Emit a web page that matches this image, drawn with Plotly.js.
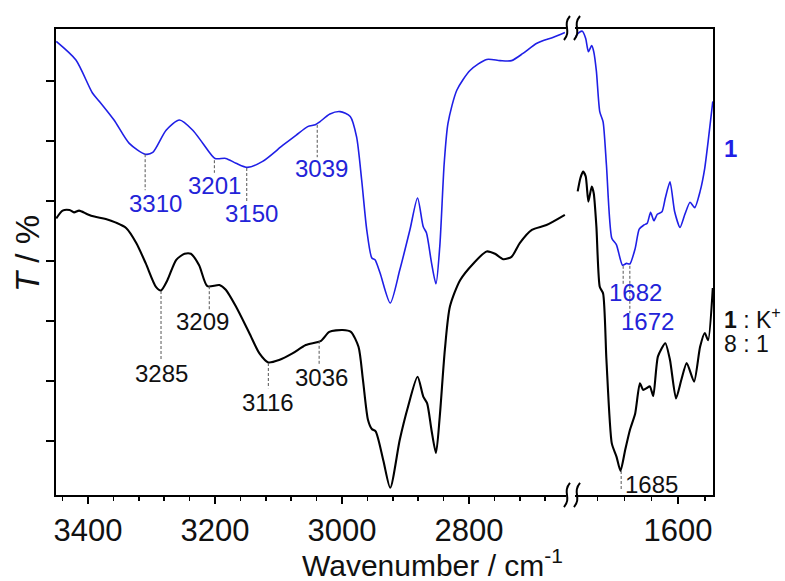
<!DOCTYPE html>
<html>
<head>
<meta charset="utf-8">
<script src="https://cdn.plot.ly/plotly-3.0.1.min.js"></script>
<style>
html,body{margin:0;padding:0;background:#fff;}
#chart{width:785px;height:581px;}
</style>
</head>
<body>
<div id="chart"></div>
<script>
// ---- data (wavenumber / cm-1, transmittance in arbitrary units) ----
const blueLeftX = [3450,3419,3393,3382,3359,3335,3310,3298,3277,3256,3235,3219,3200,3183,3167,3149,3125,3093,3072,3054,3042,3035,3019,3003,2987,2977,2969,2961,2953,2948,2940,2924,2909,2893,2881,2872,2867,2859,2852,2846,2839,2833,2819,2798,2772,2751,2733,2715,2693,2667,2649];
const blueLeftY = [7.66,7.35,6.80,6.66,6.35,5.96,5.78,5.81,6.18,6.35,6.18,5.96,5.71,5.71,5.63,5.56,5.66,5.93,6.10,6.24,6.27,6.32,6.45,6.49,6.41,6.07,5.35,4.52,4.05,4.02,3.80,3.30,3.85,4.52,5.05,4.57,4.47,3.97,3.62,4.24,5.63,6.30,6.85,7.18,7.36,7.34,7.34,7.46,7.63,7.73,7.81];

const blackLeftX = [3450,3440,3429,3422,3414,3401,3390,3372,3356,3340,3324,3309,3293,3285,3275,3261,3248,3238,3225,3212,3193,3183,3167,3146,3130,3116,3099,3078,3057,3033,3020,2999,2986,2974,2967,2959,2953,2947,2935,2924,2909,2896,2881,2872,2866,2859,2852,2846,2838,2830,2814,2793,2772,2759,2746,2733,2720,2701,2678,2649];
const blackLeftY = [4.71,4.84,4.85,4.81,4.84,4.78,4.74,4.70,4.64,4.55,4.30,3.96,3.57,3.51,3.68,4.02,4.12,4.12,3.93,3.58,3.60,3.52,3.24,2.80,2.46,2.31,2.35,2.46,2.60,2.67,2.82,2.85,2.82,2.57,2.02,1.35,1.20,1.16,0.68,0.22,1.02,1.57,2.07,1.74,1.63,1.18,0.80,1.41,2.52,3.24,3.68,3.96,4.16,4.12,4.03,4.07,4.30,4.52,4.60,4.77];

const blueRightX = [1754,1749,1743,1738,1734,1729,1726,1722,1717,1712,1707,1699,1692,1683,1677,1672,1664,1658,1651,1646,1641,1636,1631,1624,1619,1612,1605,1597,1590,1582,1575,1567,1560,1555,1548];
const blueRightY = [7.72,7.80,7.83,7.71,7.49,7.59,7.49,7.16,6.49,6.32,5.60,4.38,4.27,3.93,3.96,3.95,4.21,4.53,4.60,4.63,4.81,4.67,4.78,4.82,5.05,5.32,4.82,4.56,4.77,4.98,4.89,5.16,5.55,5.99,6.66];

const blackRightX = [1750,1746,1742,1738,1734,1729,1726,1722,1717,1712,1707,1699,1692,1686,1679,1672,1664,1657,1652,1647,1642,1637,1630,1619,1612,1603,1595,1587,1576,1567,1560,1555,1548];
const blackRightY = [5.16,5.38,5.49,5.41,4.99,5.24,5.13,4.57,3.57,3.46,2.35,0.96,0.74,0.50,0.85,1.18,1.46,1.96,1.85,1.88,1.91,1.75,2.41,2.63,2.35,1.71,2.02,2.30,1.99,2.57,2.80,2.68,3.55];

// peak labels (wavenumbers)
const bluePeaksLeft = [3310, 3201, 3150, 3039];
const blackPeaksLeft = [3285, 3209, 3116, 3036];
const bluePeaksRight = [1682, 1672];
const blackPeaksRight = [1685];

// ---- styling / layout ----
const BLUE = '#1f1fe6';
const TXTBLUE = '#2323d8';
const FONT = 'Arial, "Liberation Sans", sans-serif';
const L = 56, R = 713, T = 29, B = 495;
const pX = x => (x - L) / (R - L);
const pY = y => (B - y) / (B - T);

const traces = [
  {x: blueLeftX, y: blueLeftY, xaxis: 'x', yaxis: 'y', mode: 'lines', line: {color: BLUE, width: 1.6, shape: 'spline', smoothing: 0.7}, hoverinfo: 'skip'},
  {x: blackLeftX, y: blackLeftY, xaxis: 'x', yaxis: 'y', mode: 'lines', line: {color: '#000', width: 2.1, shape: 'spline', smoothing: 0.7}, hoverinfo: 'skip'},
  {x: blueRightX, y: blueRightY, xaxis: 'x2', yaxis: 'y2', mode: 'lines', line: {color: BLUE, width: 1.6, shape: 'spline', smoothing: 0.6}, hoverinfo: 'skip'},
  {x: blackRightX, y: blackRightY, xaxis: 'x2', yaxis: 'y2', mode: 'lines', line: {color: '#000', width: 2.1, shape: 'spline', smoothing: 0.6}, hoverinfo: 'skip'}
];

const leaders = [
  {ref: 'x', x: bluePeaksLeft[0], y0: 5.78, y1: 5.18, tx: 3294, ty: 4.96, c: TXTBLUE, t: String(bluePeaksLeft[0])},
  {ref: 'x', x: bluePeaksLeft[1], y0: 5.68, y1: 5.47, tx: 3201, ty: 5.26, c: TXTBLUE, t: String(bluePeaksLeft[1])},
  {ref: 'x', x: bluePeaksLeft[2], y0: 5.55, y1: 4.97, tx: 3142, ty: 4.79, c: TXTBLUE, t: String(bluePeaksLeft[2])},
  {ref: 'x', x: bluePeaksLeft[3], y0: 6.27, y1: 5.73, tx: 3032, ty: 5.54, c: TXTBLUE, t: String(bluePeaksLeft[3])},
  {ref: 'x', x: blackPeaksLeft[0], y0: 3.50, y1: 2.35, tx: 3285, ty: 2.12, c: '#111', t: String(blackPeaksLeft[0])},
  {ref: 'x', x: blackPeaksLeft[1], y0: 3.58, y1: 3.18, tx: 3220, ty: 2.99, c: '#111', t: String(blackPeaksLeft[1])},
  {ref: 'x', x: blackPeaksLeft[2], y0: 2.30, y1: 1.88, tx: 3117, ty: 1.64, c: '#111', t: String(blackPeaksLeft[2])},
  {ref: 'x', x: blackPeaksLeft[3], y0: 2.67, y1: 2.27, tx: 3033, ty: 2.06, c: '#111', t: String(blackPeaksLeft[3])},
  {ref: 'x2', x: bluePeaksRight[0], y0: 3.92, y1: 3.60, tx: 1663, ty: 3.47, c: TXTBLUE, t: String(bluePeaksRight[0])},
  {ref: 'x2', x: bluePeaksRight[1], y0: 3.92, y1: 3.13, tx: 1645, ty: 2.99, c: TXTBLUE, t: String(bluePeaksRight[1])},
  {ref: 'x2', x: blackPeaksRight[0], y0: 0.50, y1: 0.18, tx: 1640, ty: 0.27, c: '#111', t: String(blackPeaksRight[0])}
];

const shapes = [];
const annotations = [];
leaders.forEach(d => {
  const yref = d.ref === 'x' ? 'y' : 'y2';
  shapes.push({type: 'line', xref: d.ref, yref: yref, x0: d.x, x1: d.x, y0: d.y0, y1: d.y1,
    line: {color: '#555', width: 1, dash: '3px,2px'}});
  annotations.push({xref: d.ref, yref: yref, x: d.tx, y: d.ty, text: d.t, showarrow: false,
    xanchor: 'center', yanchor: 'middle', font: {family: FONT, size: 24, color: d.c}});
});

// axis-break squiggles
function squiggle(cx, y0, y1) {
  const h = y1 - y0;
  const pts = [[cx + 3, y0], [cx - 5, y0 + h * 0.4], [cx + 5, y0 + h * 0.6], [cx - 3, y1]];
  const q = pts.map(p => pX(p[0]).toFixed(4) + ',' + pY(p[1]).toFixed(4));
  return 'M' + q[0] + ' C' + q[1] + ' ' + q[2] + ' ' + q[3];
}
[[567, 16, 40], [577, 16, 40], [567, 483, 507], [577, 483, 507]].forEach(s => {
  shapes.push({type: 'path', xref: 'paper', yref: 'paper', path: squiggle(s[0], s[1], s[2]),
    line: {color: '#000', width: 2}});
});

annotations.push(
  {xref: 'paper', yref: 'paper', x: pX(432), y: pY(563), text: 'Wavenumber / cm<sup>-1</sup>', showarrow: false,
   xanchor: 'center', yanchor: 'middle', font: {family: FONT, size: 30, color: '#111'}},
  {xref: 'paper', yref: 'paper', x: pX(27), y: pY(254), text: '<i>T</i> / %', showarrow: false, textangle: -90,
   xanchor: 'center', yanchor: 'middle', font: {family: FONT, size: 33, color: '#111'}},
  {xref: 'paper', yref: 'paper', x: pX(730), y: pY(148), text: '<b>1</b>', showarrow: false,
   xanchor: 'center', yanchor: 'middle', font: {family: FONT, size: 24, color: BLUE}},
  {xref: 'paper', yref: 'paper', x: pX(722), y: pY(318), text: '<b>1</b> : K<sup>+</sup>', showarrow: false,
   xanchor: 'left', yanchor: 'middle', font: {family: FONT, size: 23, color: '#111'}},
  {xref: 'paper', yref: 'paper', x: pX(722), y: pY(344), text: '8 : 1', showarrow: false,
   xanchor: 'left', yanchor: 'middle', font: {family: FONT, size: 23, color: '#111'}}
);

const xCommon = {
  showline: true, linecolor: '#000', linewidth: 2, mirror: true,
  showgrid: false, zeroline: false,
  ticks: 'outside', ticklen: 7, tickwidth: 1.5, tickcolor: '#000',
  dtick: 200, tick0: 1600,
  minor: {dtick: 40, ticks: 'outside', ticklen: 4, tickwidth: 1.5, tickcolor: '#000', showgrid: false},
  tickfont: {family: FONT, size: 31, color: '#111'}
};

const layout = {
  width: 785, height: 581,
  margin: {l: L, r: 785 - R, t: T, b: 581 - B, pad: 0},
  paper_bgcolor: '#fff', plot_bgcolor: '#fff',
  showlegend: false,
  xaxis: Object.assign({}, xCommon, {domain: [0, pX(566)], range: [3450.4, 2647.2], anchor: 'y'}),
  xaxis2: Object.assign({}, xCommon, {domain: [pX(575), 1], range: [1754.0, 1547.7], anchor: 'y2'}),
  yaxis: {range: [0.1, 7.867], domain: [0, 1], anchor: 'x', showline: true, linecolor: '#000', linewidth: 2,
    showgrid: false, zeroline: false, ticks: 'outside', ticklen: 8, tickwidth: 1.5, tickcolor: '#000',
    dtick: 1, tick0: 0, showticklabels: false},
  yaxis2: {range: [0.1, 7.867], domain: [0, 1], anchor: 'x2', side: 'right', showline: true, linecolor: '#000',
    linewidth: 2, showgrid: false, zeroline: false, ticks: '', showticklabels: false},
  shapes: shapes,
  annotations: annotations
};

Plotly.newPlot('chart', traces, layout, {staticPlot: true, displayModeBar: false});
</script>
</body>
</html>
